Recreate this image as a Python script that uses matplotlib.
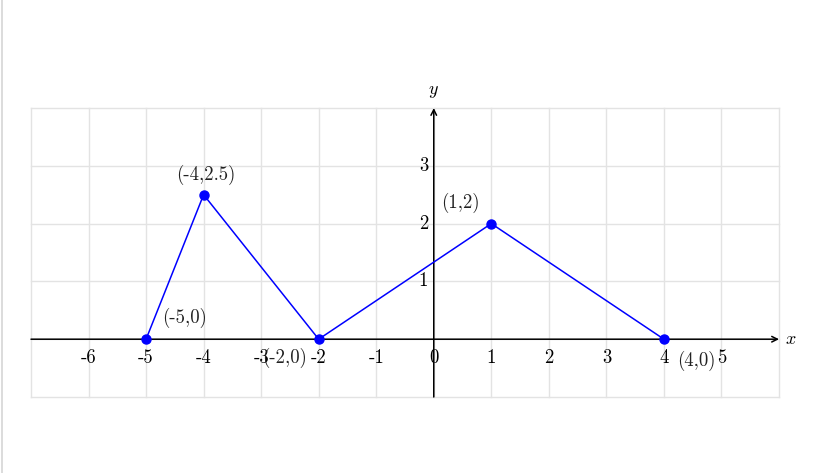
import numpy as np
import matplotlib.pyplot as plt
from matplotlib.lines import Line2D

plt.rcParams['font.family'] = ['cmr10', 'DejaVu Serif']
plt.rcParams['mathtext.fontset'] = 'cm'
plt.rcParams['axes.unicode_minus'] = False

# data
px = [-5, -4, -2, 1, 4]
py = [0, 2.5, 0, 2, 0]
point_labels = ['(-5,0)', '(-4,2.5)', '(-2,0)', '(1,2)', '(4,0)']
label_pos = [(-4.33, 0.36), (-3.97, 2.84), (-2.6, -0.32), (0.47, 2.35), (4.57, -0.37)]
xtick_vals = [-6, -5, -4, -3, -2, -1, 0, 1, 2, 3, 4, 5]
ytick_vals = [1, 2, 3]

fig = plt.figure(figsize=(8.15, 4.73), dpi=100)
ax = fig.add_axes([31 / 815, 76 / 473, 748 / 815, 289 / 473])
ax.set_xlim(-7, 6)
ax.set_ylim(-1, 4)

# grid
for gx in range(-7, 7):
    ax.axvline(gx, color='#e3e3e3', lw=1.0, zorder=0, clip_on=False)
for gy in range(-1, 5):
    ax.axhline(gy, color='#e3e3e3', lw=1.0, zorder=0, clip_on=False)

for s in ax.spines.values():
    s.set_visible(False)
ax.set_xticks([])
ax.set_yticks([])

# axes with arrows
ax.annotate('', xy=(6, 0), xytext=(-7, 0),
            arrowprops=dict(arrowstyle='->', color='black', lw=1.1, shrinkA=0, shrinkB=0),
            annotation_clip=False)
ax.annotate('', xy=(0, 4), xytext=(0, -1),
            arrowprops=dict(arrowstyle='->', color='black', lw=1.1, shrinkA=0, shrinkB=0),
            annotation_clip=False)
ax.text(6.2, 0, r'$x$', fontsize=13, va='center', ha='center')
ax.text(0, 4.28, r'$y$', fontsize=13, va='center', ha='center')

for v in xtick_vals:
    ax.text(v, -0.33, str(v), fontsize=13.5, ha='center', va='center')
for v in ytick_vals:
    ax.text(-0.18, v, str(v), fontsize=13.5, ha='center', va='center')

# polyline and points
ax.plot(px, py, color='blue', lw=1.1, zorder=3)
ax.plot(px, py, 'o', color='blue', ms=6.5, zorder=4)
for lab, (lx, ly) in zip(point_labels, label_pos):
    ax.text(lx, ly, lab, fontsize=13.5, ha='center', va='center', color='#222222', zorder=5)

# left page border
fig.add_artist(Line2D([1.5 / 815, 1.5 / 815], [0, 1], color='#d5d5d5', lw=1.2))

fig.savefig('out.png', dpi=100)
